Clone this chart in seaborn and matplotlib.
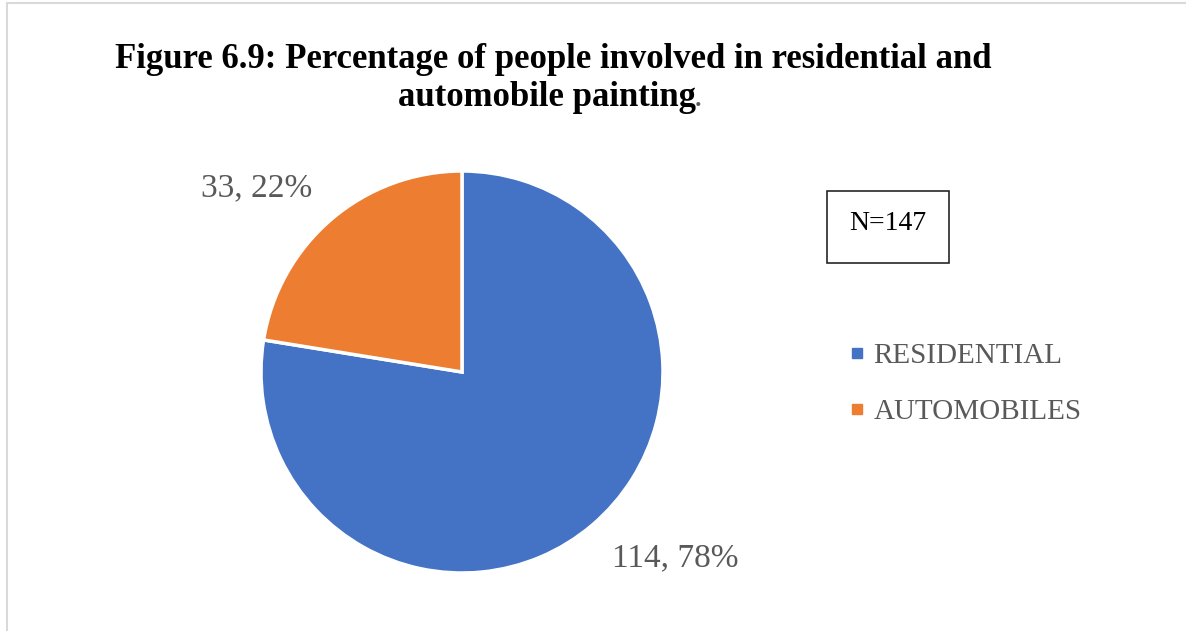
import matplotlib
matplotlib.use("Agg")
import matplotlib.pyplot as plt
from matplotlib.lines import Line2D
from matplotlib.patches import Rectangle
import seaborn as sns

categories = ["RESIDENTIAL", "AUTOMOBILES"]
counts = [114, 33]
total_n = 147
colors = ["#4472C4", "#ED7D31"]

sns.set_theme(style="white")
plt.rcParams["font.family"] = ["Liberation Serif", "DejaVu Serif"]

W, H = 1186, 631
fig = plt.figure(figsize=(W / 100, H / 100), dpi=100)
fig.patch.set_facecolor("white")

# chart area border (top and left edges)
fig.add_artist(Line2D([7 / W, 1.0], [1 - 3 / H, 1 - 3 / H], color="#d9d9d9", lw=1.5))
fig.add_artist(Line2D([7 / W, 7 / W], [0, 1 - 3 / H], color="#d9d9d9", lw=1.5))

# title
fig.text(553 / W, 1 - 59 / H, "Figure 6.9: Percentage of people involved in residential and",
         ha="center", va="center", fontsize=25, fontweight="bold", color="black")
fig.text(547 / W, 1 - 97 / H, "automobile painting",
         ha="center", va="center", fontsize=25, fontweight="bold", color="black")
fig.text(694 / W, 1 - 97 / H, ".", ha="left", va="center", fontsize=25, color="#595959")

# pie
cx, cy, r = 462, 372, 201
ax = fig.add_axes([(cx - r) / W, 1 - (cy + r) / H, 2 * r / W, 2 * r / H])
wedges, _ = ax.pie(counts, colors=colors, startangle=90, counterclock=False,
                   wedgeprops=dict(edgecolor="white", linewidth=2.5))
ax.set_xlim(-1, 1)
ax.set_ylim(-1, 1)
ax.set_aspect("equal")
ax.axis("off")

# data labels: value and percentage
pcts = [round(100 * c / sum(counts)) for c in counts]
label_pos = [(675, 558), (257, 188)]
for (px, py), c, p in zip(label_pos, counts, pcts):
    fig.text(px / W, 1 - py / H, f"{c}, {p}%", ha="center", va="center",
             fontsize=24, color="#595959")

# sample size box
fig.add_artist(Rectangle((827 / W, 1 - 263 / H), 122 / W, 72 / H, transform=fig.transFigure,
                         facecolor="white", edgecolor="#262626", lw=1.2))
fig.text(888 / W, 1 - 224 / H, f"N={total_n}", ha="center", va="center",
         fontsize=20, color="black")

# legend
handles = [Line2D([0], [0], marker="s", linestyle="none", markersize=7,
                  markerfacecolor=col, markeredgecolor=col) for col in colors]
leg = fig.legend(handles, categories, loc="center left",
                 bbox_to_anchor=(834 / W, 1 - 384 / H), frameon=False,
                 fontsize=21, labelcolor="#595959", handlelength=0.6,
                 handletextpad=0.25, labelspacing=1.0, borderpad=0)

fig.savefig("out.png", dpi=100, facecolor="white")
